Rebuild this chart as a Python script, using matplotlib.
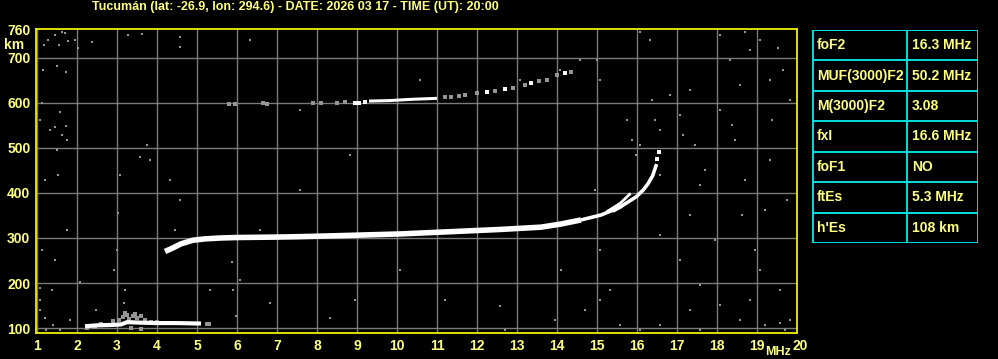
import matplotlib
matplotlib.use("Agg")
import matplotlib.pyplot as plt
from matplotlib.transforms import ScaledTranslation

# ionogram traces (MHz, km)
f2_freq = [4.2, 4.4, 4.6, 4.9, 5.2, 5.6, 6.0, 7.0, 7.6, 8.5, 9.3, 10.1, 11.1, 12.6, 13.6, 14.1, 14.6]
f2_height = [270, 278, 287, 295, 298, 300, 301, 302, 303, 305, 307, 309, 313, 319, 324, 331, 340]
f2_tail_freq = [14.6, 15.1, 15.35, 15.6, 15.99, 16.16, 16.28, 16.39, 16.49]
f2_tail_height = [340, 351, 360, 370, 392, 407, 421, 438, 464]
fx_freq = [15.24, 15.58, 15.84]
fx_height = [358, 377, 399]
fx2_freq = [15.4, 15.6, 15.75]
fx2_height = [358, 368, 380]

es_freq = [2.2, 2.5, 2.9, 3.1, 3.25, 3.6, 4.0, 4.5, 5.1]
es_height = [104, 106, 107, 108, 113, 112, 111, 111, 110]
es_fuzz_freq = [3.05, 3.15, 3.25, 3.3, 3.4, 3.5, 3.6, 3.7, 3.2, 3.45, 2.9, 2.6, 3.35, 3.6, 3.85, 4.0, 5.25, 5.3, 2.25, 2.45]
es_fuzz_height = [118, 125, 128, 120, 126, 122, 127, 118, 134, 131, 115, 110, 100, 98, 114, 114, 110, 110, 101, 103]

hop2_line_freq = [9.3, 9.8, 10.4, 11.0]
hop2_line_height = [604, 605, 608, 610]
hop2_white_freq = [8.95, 9.05, 9.2, 12.25, 12.7, 13.35, 14.2, 16.5, 16.55]
hop2_white_height = [600, 600, 601, 625, 630, 645, 666, 475, 490]
hop2_gray_freq = [5.8, 5.95, 6.65, 6.75, 7.9, 8.1, 8.5, 8.7, 11.2, 11.35, 11.55, 11.7, 12.0,
                  12.45, 12.9, 13.2, 13.55, 13.75, 14.0, 14.35]
hop2_gray_height = [598, 597, 600, 598, 600, 600, 600, 601, 612, 614, 616, 617, 622,
                    627, 633, 640, 648, 650, 662, 668]

noise_freq = [1.18, 1.28, 1.45, 1.63, 1.70, 1.55, 1.78, 1.95, 2.03, 2.38, 3.28, 3.63, 4.58, 4.58,
              1.15, 1.50, 1.73, 1.13, 1.58, 1.08, 1.33, 1.73, 1.50, 1.63, 1.75, 1.45, 1.20, 1.53,
              1.75, 1.13, 1.45, 1.08, 1.38, 1.08, 1.08, 1.20, 1.40, 1.23, 1.58, 2.08, 1.83, 3.20,
              3.18, 2.93, 2.48, 3.00, 3.03, 3.08, 3.58, 3.75, 3.83, 4.33, 4.58, 6.33, 7.58, 10.58,
              13.08, 14.08, 14.58, 15.00, 15.08, 16.08, 16.33, 16.38, 16.45, 16.58, 16.83, 17.08,
              17.33, 17.45, 17.58, 18.08, 18.33, 18.38, 18.58, 18.70, 18.83, 19.08, 19.33, 19.53,
              19.65, 19.83, 18.08, 17.70, 18.63, 18.95, 19.08, 19.58, 17.58, 17.33, 18.08, 18.58,
              18.83, 19.20, 19.58, 19.83, 19.70, 17.58, 16.58, 16.08, 15.58, 15.08, 15.33, 14.70,
              17.08, 16.58, 17.33, 18.70, 19.33, 19.75, 17.15, 18.45, 19.38, 19.20, 17.95, 16.58,
              15.98, 15.88, 15.75, 16.08, 15.08, 14.95, 14.10, 13.95, 12.70, 12.58, 11.20, 8.95,
              10.08, 8.83, 7.58, 4.45, 4.95, 5.33, 6.08, 6.58, 5.88, 6.83, 8.33, 5.90, 5.98]
noise_height = [729, 740, 751, 758, 756, 729, 738, 740, 722, 736, 751, 753, 747, 725,
                673, 682, 669, 600, 580, 562, 540, 549, 496, 529, 518, 547, 429, 440,
                318, 273, 251, 189, 184, 162, 140, 122, 107, 96, 96, 202, 118, 184,
                156, 229, 140, 273, 356, 440, 480, 507, 473, 429, 384, 740, 584, 651,
                651, 673, 696, 696, 651, 758, 740, 607, 562, 540, 618, 573,
                629, 507, 418, 751, 696, 551, 640, 758, 718, 740, 651, 722,
                673, 607, 584, 451, 351, 273, 229, 184, 196, 140, 151, 118,
                162, 107, 111, 118, 96, 96, 107, 96, 107, 162, 184, 140,
                251, 307, 351, 429, 473, 384, 529, 518, 562, 362, 296, 440,
                484, 518, 562, 507, 273, 407, 229, 118, 96, 149, 162, 162,
                229, 484, 407, 318, 296, 184, 207, 318, 247, 156, 122, 184, 127]

param_names = ["foF2", "MUF(3000)F2", "M(3000)F2", "fxI", "foF1", "ftEs", "h'Es"]
param_values = ["16.3 MHz", "50.2 MHz", "3.08", "16.6 MHz", "NO", "5.3 MHz", "108 km"]

x_ticks = list(range(1, 21))
y_ticks = [100, 200, 300, 400, 500, 600, 700]

title = "Tucumán (lat: -26.9, lon: 294.6) - DATE: 2026 03 17 - TIME (UT): 20:00"

YELLOW = "#ffff80"
LINE_YELLOW = "#f0f000"
CYAN = "#00e0e0"
GRAY = "#959595"
FONT = ["Liberation Sans", "DejaVu Sans"]

W, H = 998, 359
fig = plt.figure(figsize=(W / 100, H / 100), dpi=100, facecolor="black")

ax = fig.add_axes([36 / W, 1 - 333 / H, 761 / W, 304 / H], facecolor="black")
ax.set_xlim(0.975, 20.0)
ax.set_ylim(89, 764)
ax.set_xticks(x_ticks)
ax.set_yticks(y_ticks)
ax.grid(True, color="#7a7a7a", linewidth=1.0)
ax.set_axisbelow(True)
ax.tick_params(length=0, colors=YELLOW, labelsize=10, pad=4)
for lab in ax.get_xticklabels() + ax.get_yticklabels():
    lab.set_family(FONT)
    lab.set_fontweight("bold")
# the "20" label sits a little to the right, next to "MHz"
last = ax.get_xticklabels()[-1]
last.set_transform(last.get_transform() + ScaledTranslation(3 / 100, 0, fig.dpi_scale_trans))
for sp in ax.spines.values():
    sp.set_color(LINE_YELLOW)
    sp.set_linewidth(1.3)

# noise and weak echoes
ax.scatter(noise_freq, noise_height, s=4.5, marker="s", color=GRAY, linewidths=0, zorder=3)
ax.scatter(es_fuzz_freq, es_fuzz_height, s=5, marker="s", color=GRAY, linewidths=0, zorder=3)
ax.scatter(hop2_gray_freq, hop2_gray_height, s=5, marker="s", color=GRAY, linewidths=0, zorder=3)

# traces
ax.plot(es_freq, es_height, color="white", lw=3.0, solid_capstyle="butt", zorder=4)
ax.plot(f2_freq, f2_height, color="white", lw=4.0, solid_capstyle="butt", zorder=4)
ax.plot(f2_tail_freq, f2_tail_height, color="white", lw=2.6, solid_capstyle="butt", zorder=4)
ax.plot(fx_freq, fx_height, color="white", lw=2.0, solid_capstyle="butt", zorder=4)
ax.plot(fx2_freq, fx2_height, color="white", lw=1.6, solid_capstyle="butt", zorder=4)
ax.plot(hop2_line_freq, hop2_line_height, color="white", lw=2.2, solid_capstyle="butt", zorder=4)
ax.scatter(hop2_white_freq, hop2_white_height, s=5, marker="s", color="white", linewidths=0, zorder=4)

# axis texts
fig.text(31 / W, 1 - 31 / H, "760", color=YELLOW, fontsize=10, fontweight="bold",
         family=FONT, ha="right", va="center")
fig.text(14 / W, 1 - 45 / H, "km", color=YELLOW, fontsize=10, fontweight="bold",
         family=FONT, ha="center", va="center")
fig.text(778 / W, 1 - 352 / H, "MHz", color=YELLOW, fontsize=9, fontweight="bold",
         family=FONT, ha="center", va="center")
fig.text(295 / W, 1 - 7 / H, title, color=YELLOW, fontsize=9, fontweight="bold",
         family=FONT, ha="center", va="center")

# parameter table
tab = fig.add_axes([812 / W, 1 - 243 / H, 166 / W, 213 / H], facecolor="black")
n = len(param_names)
tab.set_xlim(0, 166)
tab.set_ylim(n, 0)
tab.axis("off")
for i in range(n + 1):
    tab.axhline(i, color=CYAN, lw=1.4)
for xv in (0.5, 95, 165.5):
    tab.axvline(xv, color=CYAN, lw=1.4)
for i, (name, val) in enumerate(zip(param_names, param_values)):
    tab.text(5, i + 0.5, name, color=YELLOW, fontsize=10, fontweight="bold",
             family=FONT, va="center", ha="left")
    tab.text(100, i + 0.5, val, color=YELLOW, fontsize=10, fontweight="bold",
             family=FONT, va="center", ha="left")

fig.savefig("out.png", dpi=100, facecolor="black")
